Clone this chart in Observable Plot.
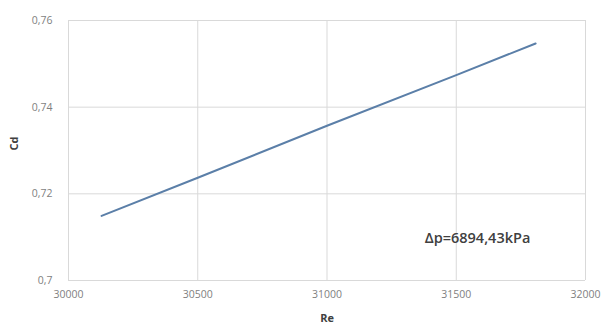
<!DOCTYPE html>
<html>
<head>
<meta charset="utf-8">
<script src="https://cdn.jsdelivr.net/npm/d3@7"></script>
<script src="https://cdn.jsdelivr.net/npm/@observablehq/plot@0.6"></script>
<style>
  html, body { margin: 0; padding: 0; background: #fff; }
  #chart svg { display: block; }
</style>
</head>
<body>
<div id="chart"></div>
<script>
const re = [30128, 30500, 31000, 31500, 31807];
const cd = [0.7149, 0.7237, 0.7357, 0.7474, 0.7547];
const xTicks = [30000, 30500, 31000, 31500, 32000];
const yTicks = [0.70, 0.72, 0.74, 0.76];
const annotation = "Δp=6894,43kPa";
const annotationPos = {re: 31378, cd: 0.7097};

const data = re.map((r, i) => ({re: r, cd: cd[i]}));
const comma = d => String(+d.toFixed(2)).replace(".", ",");

const chart = Plot.plot({
  width: 609,
  height: 328,
  marginLeft: 68,
  marginRight: 24,
  marginTop: 20,
  marginBottom: 48,
  style: {fontFamily: "'Open Sans', 'Liberation Sans', sans-serif", background: "#fff"},
  x: {domain: [30000, 32000], ticks: xTicks, tickFormat: d => String(d)},
  y: {domain: [0.70, 0.76], ticks: yTicks, tickFormat: comma},
  marks: [
    Plot.gridX(xTicks, {stroke: "#d9d9d9", strokeOpacity: 1, strokeWidth: 1}),
    Plot.gridY(yTicks, {stroke: "#d9d9d9", strokeOpacity: 1, strokeWidth: 1}),
    Plot.axisX({ticks: xTicks, tickSize: 0, tickPadding: 10, tickFormat: d => String(d), fill: "#7f7f7f", fontSize: 10.5, label: null}),
    Plot.axisY({ticks: yTicks, tickSize: 0, tickPadding: 16, tickFormat: comma, fill: "#7f7f7f", fontSize: 10.5, label: null}),
    Plot.line(data, {x: "re", y: "cd", stroke: "#5b7fa8", strokeWidth: 2}),
    Plot.text([annotation], {x: annotationPos.re, y: annotationPos.cd, text: d => d, textAnchor: "start", fontSize: 14.5, fill: "#404040", fontWeight: 600}),
    Plot.text(["Re"], {frameAnchor: "bottom", dy: 41, text: d => d, fontWeight: "bold", fontSize: 11, fill: "#404040"}),
    Plot.text(["Cd"], {frameAnchor: "left", dx: -54, text: d => d, rotate: -90, fontWeight: "bold", fontSize: 11, fill: "#404040"})
  ]
});
document.getElementById("chart").appendChild(chart);
</script>
</body>
</html>
